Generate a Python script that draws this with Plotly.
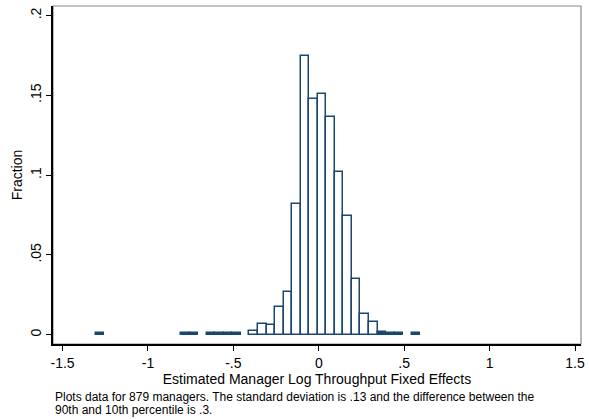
import plotly.graph_objects as go

# Histogram data (bin width 0.05, bins start at the sample minimum)
bin_left = [-1.306, -0.806, -0.756, -0.656, -0.606, -0.556, -0.506,
            -0.406, -0.356, -0.306, -0.256, -0.206, -0.156, -0.106,
            -0.056, -0.006, 0.044, 0.094, 0.144, 0.194, 0.244, 0.294,
            0.344, 0.394, 0.444, 0.544]
fraction = [0.0011, 0.0011, 0.0011, 0.0011, 0.0011, 0.0011, 0.0011,
            0.0023, 0.0069, 0.0061, 0.0177, 0.0271, 0.0819, 0.1744,
            0.1477, 0.1510, 0.1366, 0.1017, 0.0746, 0.0349, 0.0130, 0.0083,
            0.0015, 0.0011, 0.0011, 0.0011]
bin_width = 0.05

x_tickvals = [-1.5, -1, -0.5, 0, 0.5, 1, 1.5]
x_ticktext = ["-1.5", "-1", "-.5", "0", ".5", "1", "1.5"]
y_tickvals = [0, 0.05, 0.1, 0.15, 0.2]
y_ticktext = ["0", ".05", ".1", ".15", ".2"]

note_lines = ["Plots data for 879 managers. The standard deviation is .13 and the difference between the",
              "90th and 10th percentile is .3."]

navy = "#1a476f"
font = "Liberation Sans, Arial, sans-serif"

centers = [b + bin_width / 2 for b in bin_left]
# very flat bars render as solid dashes in the original
fills = [navy if f < 0.002 else "white" for f in fraction]

fig = go.Figure(go.Bar(
    x=centers, y=fraction, width=bin_width,
    marker=dict(color=fills, line=dict(color=navy, width=1.5)),
))

fig.update_layout(
    width=589, height=419,
    margin=dict(l=53, r=4, t=6, b=75),
    paper_bgcolor="white", plot_bgcolor="white",
    showlegend=False,
    font=dict(family=font, size=14, color="black"),
    bargap=0,
)
fig.update_xaxes(
    range=[-1.556, 1.535], tickvals=x_tickvals, ticktext=x_ticktext,
    ticks="outside", ticklen=5, tickcolor="black", tickwidth=1,
    showline=True, linecolor="black", linewidth=1.5,
    showgrid=False, zeroline=False,
    title=dict(text="Estimated Manager Log Throughput Fixed Effects", standoff=3,
               font=dict(size=14)),
    tickfont=dict(size=14),
)
fig.update_yaxes(
    range=[-0.0058, 0.206], tickvals=y_tickvals, ticktext=y_ticktext,
    tickangle=-90,
    ticks="outside", ticklen=5, tickcolor="black", tickwidth=1,
    showline=True, linecolor="black", linewidth=1.5,
    showgrid=False, zeroline=False,
    title=dict(text="Fraction", standoff=2, font=dict(size=14)),
    tickfont=dict(size=14),
)
# light frame on top/right
fig.add_shape(type="rect", xref="paper", yref="paper", x0=0, x1=1, y0=0, y1=1,
              line=dict(color="#8a8a8a", width=1.2), layer="below")

for i, line in enumerate(note_lines):
    fig.add_annotation(
        text=line, xref="paper", yref="paper", x=0, y=-0.156 - 0.038 * i,
        xanchor="left", yanchor="middle", align="left", showarrow=False,
        font=dict(family=font, size=12, color="black"),
    )

fig.write_html("out.html")
